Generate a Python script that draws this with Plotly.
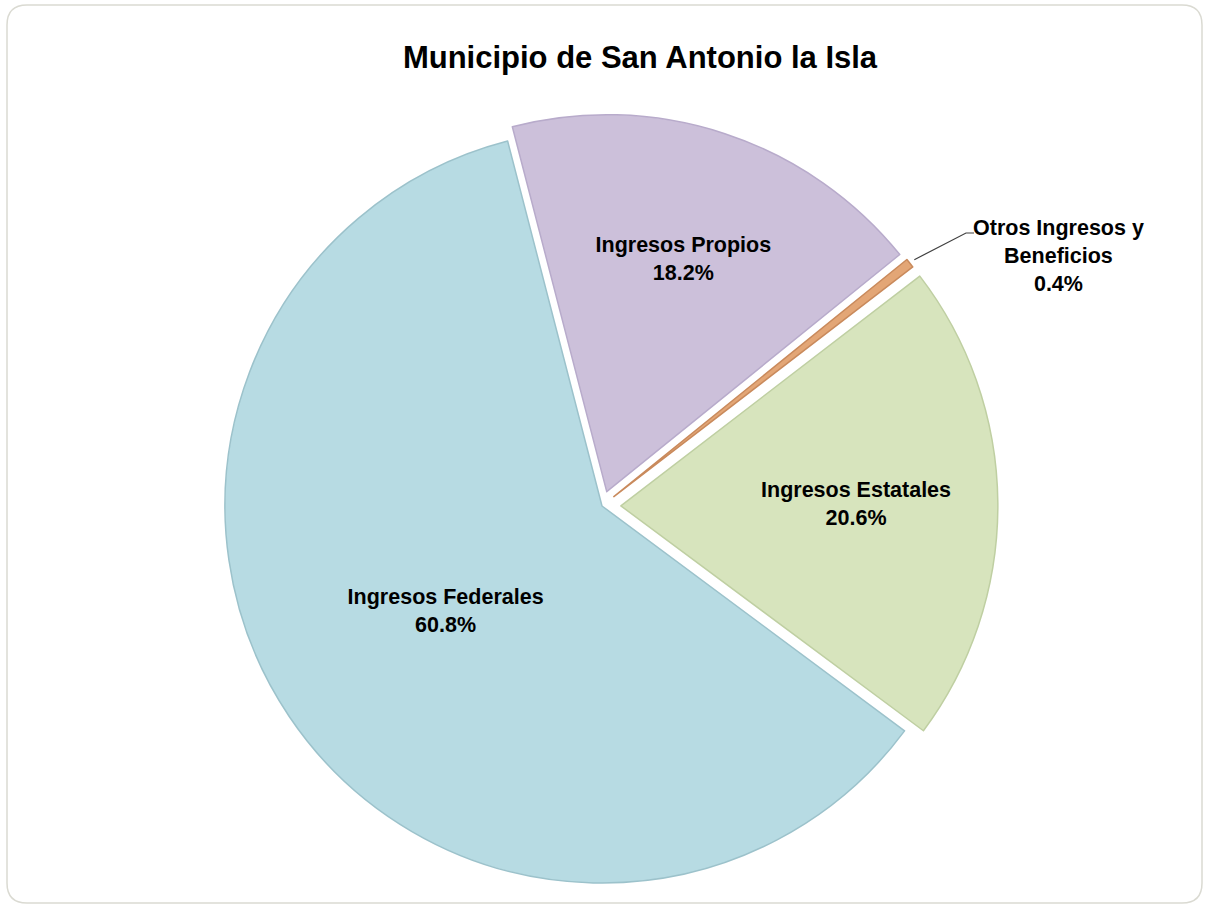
import math
import plotly.graph_objects as go

# ---- data ----
categories = ["Ingresos Propios", "Otros Ingresos y Beneficios", "Ingresos Estatales", "Ingresos Federales"]
values = [18.2, 0.4, 20.6, 60.8]
colors = ["#CCC0DA", "#E3A676", "#D7E4BD", "#B7DBE3"]
edge_colors = ["#B8ABCB", "#C98A5C", "#BFCFA2", "#9CC2CB"]
pulls = [0.04, 0.04, 0.05, 0.0]
title_text = "Municipio de San Antonio la Isla"

W, H = 1206, 905
cx, cy = 602, 506          # pie centre in pixels
R = 377                    # pie radius in pixels
maxpull = max(pulls)
half = R * (1 + maxpull)
rotation = -14.5

dom_x = [(cx - half) / W, (cx + half) / W]
dom_y = [1 - (cy + half) / H, 1 - (cy - half) / H]

textpos = ["inside", "none", "inside", "inside"]
FONT = "Liberation Sans, Arial, sans-serif"

fig = go.Figure(go.Pie(
    labels=categories,
    values=values,
    sort=False,
    direction="clockwise",
    rotation=rotation,
    pull=pulls,
    marker=dict(colors=colors, line=dict(color=edge_colors, width=1.5)),
    textposition=textpos,
    insidetextorientation="horizontal",
    texttemplate="<b>%{label}</b><br><b>%{percent:.1%}</b>",
    textfont=dict(family=FONT, size=21.5, color="#000000"),
    hoverinfo="label+percent",
    domain=dict(x=dom_x, y=dom_y),
    showlegend=False,
))

# leader line + label for the tiny slice, starting point derived from the data
total = sum(values)
start = rotation + 360 * sum(values[:1]) / total
mid = start + 360 * values[1] / total / 2
a = math.radians(mid)
r_tip = R * (1 + pulls[1] + 0.015)
tx, ty = cx + r_tip * math.sin(a), cy - r_tip * math.cos(a)
ex, ey = 966, 233
path = f"M {tx / W},{1 - ty / H} L {ex / W},{1 - ey / H} L {(ex + 8) / W},{1 - ey / H}"

shapes = [
    dict(type="path", xref="paper", yref="paper", path=path,
         line=dict(color="#404040", width=1.2)),
]

# rounded chart border
x0, y0, x1, y1, rc = 7, 5, 1202, 903, 20
def P(x, y):
    return f"{x / W},{1 - y / H}"
border = (f"M {P(x0 + rc, y0)} L {P(x1 - rc, y0)} Q {P(x1, y0)} {P(x1, y0 + rc)} "
          f"L {P(x1, y1 - rc)} Q {P(x1, y1)} {P(x1 - rc, y1)} L {P(x0 + rc, y1)} "
          f"Q {P(x0, y1)} {P(x0, y1 - rc)} L {P(x0, y0 + rc)} Q {P(x0, y0)} {P(x0 + rc, y0)} Z")
shapes.append(dict(type="path", xref="paper", yref="paper", path=border,
                   line=dict(color="#DADAD2", width=1.5), layer="below"))

fig.update_layout(
    width=W, height=H,
    margin=dict(l=0, r=0, t=0, b=0),
    paper_bgcolor="#FFFFFF",
    plot_bgcolor="#FFFFFF",
    title=dict(text=f"<b>{title_text}</b>", x=640 / W, xanchor="center",
               y=1 - 57 / H, yanchor="middle", yref="container",
               font=dict(family=FONT, size=31, color="#000000")),
    shapes=shapes,
    annotations=[dict(
        x=1058 / W, y=1 - 256 / H, xref="paper", yref="paper",
        text=f"<b>Otros Ingresos y<br>Beneficios<br>{values[1]:.1f}%</b>",
        showarrow=False, align="center", xanchor="center", yanchor="middle",
        font=dict(family=FONT, size=21.5, color="#000000"),
    )],
)

fig.write_html("out.html",
               config={"displayModeBar": False},
               post_script="document.body.style.margin='0';document.body.style.overflow='hidden';")
